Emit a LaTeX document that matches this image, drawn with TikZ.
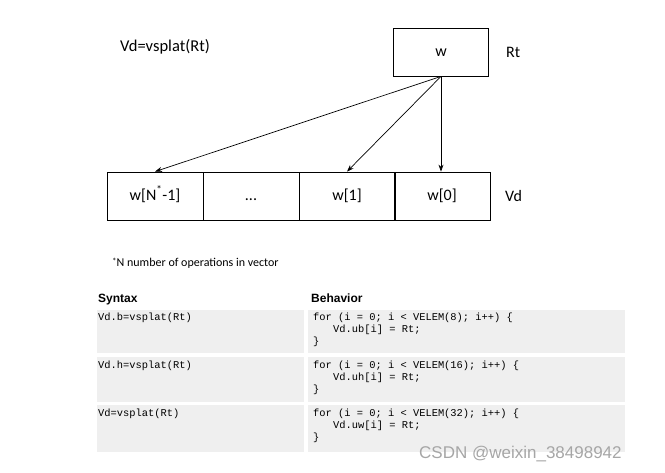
\documentclass[tikz,border=0pt]{standalone}
\usepackage{fontspec}
\usetikzlibrary{arrows.meta}
\setmainfont{Carlito}
\setsansfont{Liberation Sans}
\setmonofont{Liberation Mono}
\definecolor{cellgray}{RGB}{239,239,239}
\begin{document}
\begin{tikzpicture}[x=1pt,y=-1pt,
    every node/.style={inner sep=0pt},
    cell/.style={draw=black,line width=0.8pt,minimum width=96pt,
                 minimum height=48pt,text height=11pt,text depth=3pt,
                 font=\fontsize{16}{18}\selectfont},
    code/.style={anchor=north west,align=left,
                 font=\ttfamily\fontsize{10.4}{12}\selectfont},
    head/.style={anchor=base west,font=\sffamily\bfseries\fontsize{12}{14}\selectfont},
    spray/.style={-{Stealth[length=7pt,width=5pt]},line width=0.7pt}]
    \useasboundingbox (0,0) rectangle (665,472);

    \node[anchor=west,font=\fontsize{16.5}{18}\selectfont] (title) at (120,47) {Vd=vsplat(Rt)};

    % source register
    \node[cell,minimum width=95pt] (w) at (441,52) {w};
    \node[anchor=west,font=\fontsize{16}{18}\selectfont] (rt) at (506,52) {Rt};

    % destination vector
    \node[cell] (wn) at (155,196) {w[N\textsuperscript{*}-1]};
    \node[cell] (dots) at (251,196) {...};
    \node[cell] (w1) at (347,196) {w[1]};
    \node[cell] (w0) at (442,196) {w[0]};
    \node[anchor=west,font=\fontsize{16}{18}\selectfont] (vd) at (505,196) {Vd};

    \draw[spray] (w.south) -- (wn.north);
    \draw[spray] (w.south) -- (w1.north);
    \draw[spray] (w.south) -- (w.south |- w0.north);

    \node[anchor=west,font=\fontsize{12}{14}\selectfont] (note) at (112,263)
        {\raisebox{0.35ex}{\fontsize{9}{10}\selectfont *}N number of operations in vector};

    % syntax / behavior table
    \node[head] (syntax) at (98,302) {Syntax};
    \node[head] (behavior) at (311,302) {Behavior};

    \fill[cellgray] (97,310) rectangle (304,353);
    \fill[cellgray] (308,310) rectangle (625,353);
    \fill[cellgray] (97,357) rectangle (304,402);
    \fill[cellgray] (308,357) rectangle (625,402);
    \fill[cellgray] (97,405) rectangle (304,452);
    \fill[cellgray] (308,405) rectangle (625,452);

    \node[code] (s1) at (98,313) {Vd.b=vsplat(Rt)};
    \node[code] (b1) at (313,313) {for (i = 0; i < VELEM(8); i++) \{\\
        \hspace*{20pt}Vd.ub[i] = Rt;\\ \}};
    \node[code] (s2) at (98,361) {Vd.h=vsplat(Rt)};
    \node[code] (b2) at (313,361) {for (i = 0; i < VELEM(16); i++) \{\\
        \hspace*{20pt}Vd.uh[i] = Rt;\\ \}};
    \node[code] (s3) at (98,409) {Vd=vsplat(Rt)};
    \node[code] (b3) at (313,409) {for (i = 0; i < VELEM(32); i++) \{\\
        \hspace*{20pt}Vd.uw[i] = Rt;\\ \}};

    \node[anchor=west,text=gray!70,font=\sffamily\fontsize{17}{19}\selectfont] (mark) at (419,454)
        {CSDN @weixin\_38498942};
\end{tikzpicture}
\end{document}
